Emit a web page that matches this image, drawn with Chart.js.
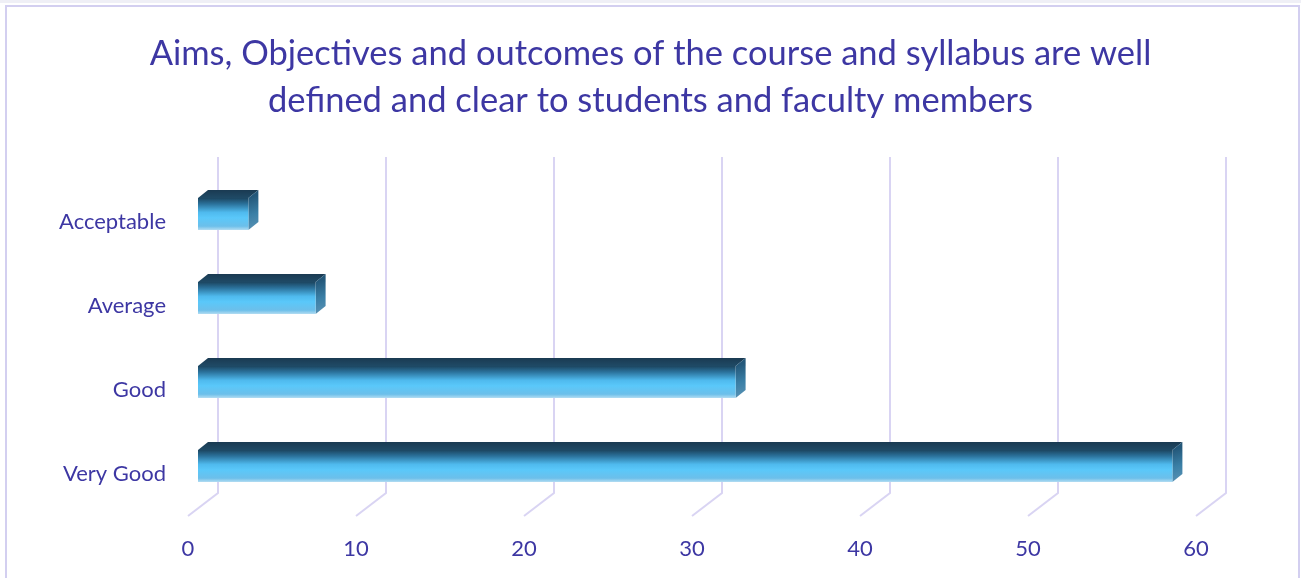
<!DOCTYPE html>
<html>
<head>
<meta charset="utf-8">
<title>Course aims survey</title>
<script src="https://cdn.jsdelivr.net/npm/chart.js@4/dist/chart.umd.min.js"></script>
<style>
  html, body { margin: 0; padding: 0; background: #fff; }
  #wrap { position: relative; width: 1301px; height: 578px; }
</style>
</head>
<body>
<div id="wrap"><canvas id="surveyChart" width="1301" height="578"></canvas></div>
<script>
// survey answers, top to bottom
const categories = ['Acceptable', 'Average', 'Good', 'Very Good']
const responses = [3, 7, 32, 58]
const xTicks = [0, 10, 20, 30, 40, 50, 60]
const titleLines = [
    'Aims, Objectives and outcomes of the course and syllabus are well',
    'defined and clear to students and faculty members'
]

const textColor = '#3d37a3'
const gridColor = '#d9d4f3'

// oblique offsets for the fake 3d look
const wall = { x: 30, y: -23 }   // back wall relative to the front plane
const face = { x: 10, y: -8 }    // bar front face relative to the front plane
const depth = { x: 10, y: -8 }   // bar thickness going back

const frame3d = {
    id: 'frame3d',
    beforeDraw(chart) {
        const ctx = chart.ctx
        ctx.save()
        ctx.fillStyle = '#fff'
        ctx.fillRect(0, 0, chart.width, chart.height)
        ctx.fillStyle = '#efeff6'
        ctx.fillRect(0, 0, chart.width, 3)
        ctx.strokeStyle = '#d3cff0'
        ctx.lineWidth = 2
        ctx.strokeRect(6, 6, chart.width - 8, chart.height + 20)
        ctx.restore()
    },
    beforeDatasetsDraw(chart) {
        const { ctx, chartArea: a, scales: { x } } = chart
        ctx.save()
        ctx.strokeStyle = gridColor
        ctx.lineWidth = 2
        xTicks.forEach(v => {
            const px = x.getPixelForValue(v)
            ctx.beginPath()
            ctx.moveTo(px, a.bottom)
            ctx.lineTo(px + wall.x, a.bottom + wall.y)
            ctx.lineTo(px + wall.x, a.top + wall.y)
            ctx.stroke()
        })
        ctx.restore()
    },
    afterDatasetsDraw(chart) {
        const ctx = chart.ctx
        const meta = chart.getDatasetMeta(0)
        ctx.save()
        ctx.filter = 'blur(0.6px)'
        meta.data.forEach(bar => {
            const p = bar.getProps(['x', 'y', 'base', 'height'], true)
            const left = p.base + face.x
            const right = p.x + face.x
            const top = p.y - p.height / 2 + face.y
            const bottom = p.y + p.height / 2 + face.y

            // top face
            const tg = ctx.createLinearGradient(0, top + depth.y, 0, top)
            tg.addColorStop(0, '#1a3a52')
            tg.addColorStop(1, '#1f4a66')
            ctx.fillStyle = tg
            ctx.beginPath()
            ctx.moveTo(left, top)
            ctx.lineTo(left + depth.x, top + depth.y)
            ctx.lineTo(right + depth.x, top + depth.y)
            ctx.lineTo(right, top)
            ctx.closePath()
            ctx.fill()

            // right face
            const rg = ctx.createLinearGradient(right, top, right + depth.x, bottom)
            rg.addColorStop(0, '#24587a')
            rg.addColorStop(0.5, '#3a7fa6')
            rg.addColorStop(1, '#5b93b5')
            ctx.fillStyle = rg
            ctx.beginPath()
            ctx.moveTo(right, top)
            ctx.lineTo(right + depth.x, top + depth.y)
            ctx.lineTo(right + depth.x, bottom + depth.y)
            ctx.lineTo(right, bottom)
            ctx.closePath()
            ctx.fill()

            // front face
            const fg = ctx.createLinearGradient(0, top, 0, bottom)
            fg.addColorStop(0, '#1c4560')
            fg.addColorStop(0.18, '#2a7099')
            fg.addColorStop(0.45, '#4fbaee')
            fg.addColorStop(0.62, '#5ac8fa')
            fg.addColorStop(0.88, '#6cbfea')
            fg.addColorStop(1, '#b3dcf2')
            ctx.fillStyle = fg
            ctx.fillRect(left, top, right - left, bottom - top)
        })
        ctx.restore()
    }
}

const chart = new Chart(document.getElementById('surveyChart'), {
    type: 'bar',
    data: {
        labels: categories,
        datasets: [{
            label: 'Responses',
            data: responses,
            backgroundColor: 'rgba(0,0,0,0)',
            borderWidth: 0,
            barThickness: 32
        }]
    },
    options: {
        indexAxis: 'y',
        responsive: false,
        animation: false,
        events: [],
        layout: { padding: 0 },
        plugins: {
            legend: { display: false },
            tooltip: { enabled: false },
            title: {
                display: true,
                text: titleLines,
                color: textColor,
                font: { family: 'Lato', size: 34.5, weight: 'normal', lineHeight: '47px' },
                padding: { top: 30, bottom: 56 }
            }
        },
        scales: {
            x: {
                min: 0,
                max: 60,
                afterBuildTicks: scale => { scale.ticks = xTicks.map(v => ({ value: v })) },
                afterFit: scale => { scale.height = 62 },
                grid: { display: false },
                border: { display: false },
                ticks: { color: textColor, padding: 12, font: { family: 'Lato', size: 22 } }
            },
            y: {
                afterFit: scale => { scale.width = 188 },
                grid: { display: false },
                border: { display: false },
                ticks: { color: textColor, padding: 14, font: { family: 'Lato', size: 22 } }
            },
            // empty right-hand margin so the back wall fits
            margin: {
                type: 'category',
                axis: 'y',
                position: 'right',
                afterFit: scale => { scale.width = 105 },
                grid: { display: false },
                border: { display: false },
                ticks: { display: false }
            }
        }
    },
    plugins: [frame3d]
})
</script>
</body>
</html>
